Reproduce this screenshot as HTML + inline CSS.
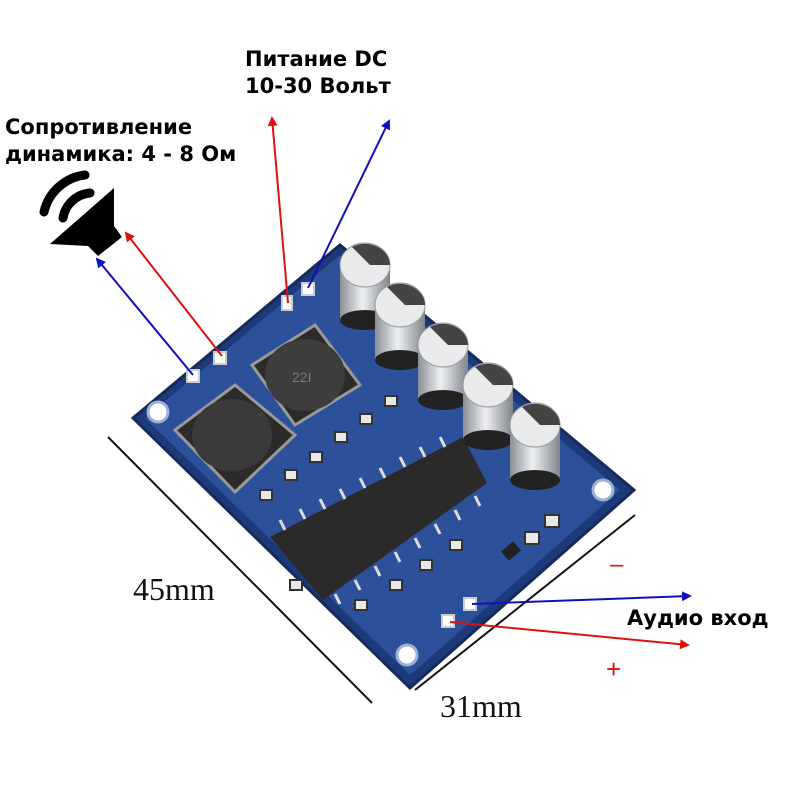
<!DOCTYPE html>
<html><head><meta charset="utf-8"><style>
body{margin:0;background:#fff;width:800px;height:800px;overflow:hidden}
svg{display:block}
.b{font-family:"DejaVu Sans","Liberation Sans",sans-serif;font-weight:bold;font-size:21px;fill:#000}
.s{font-family:"Liberation Serif",serif;font-size:32px;fill:#111}
</style></head><body>
<svg width="800" height="800" viewBox="0 0 800 800">
<defs>
<marker id="ar" markerWidth="10" markerHeight="10" refX="8" refY="5" orient="auto" markerUnits="userSpaceOnUse"><path d="M0,0 L10,5 L0,10 z" fill="#e01010"/></marker>
<marker id="ab" markerWidth="10" markerHeight="10" refX="8" refY="5" orient="auto" markerUnits="userSpaceOnUse"><path d="M0,0 L10,5 L0,10 z" fill="#1010c0"/></marker>
<linearGradient id="cap" x1="0" x2="1"><stop offset="0" stop-color="#8a8f96"/><stop offset="0.45" stop-color="#eef0f2"/><stop offset="1" stop-color="#80858c"/></linearGradient>
</defs>
<!-- board -->
<polygon points="133,418 340,245 634,490 410,688" fill="#1c3a7a" stroke="#142a5a" stroke-width="3"/>
<polygon points="145,418 340,255 620,490 410,675" fill="#2d509a"/>
<!-- mounting holes -->
<circle cx="158" cy="412" r="10" fill="#fff" stroke="#9fb0d8" stroke-width="3"/>
<circle cx="603" cy="490" r="10" fill="#fff" stroke="#9fb0d8" stroke-width="3"/>
<circle cx="407" cy="655" r="10" fill="#fff" stroke="#9fb0d8" stroke-width="3"/>
<!-- inductors -->
<polygon points="175,430 235,385 295,435 235,492" fill="#2b2b2b" stroke="#999" stroke-width="3"/>
<ellipse cx="232" cy="435" rx="40" ry="36" fill="#3a3a3a"/>
<polygon points="252,365 315,325 360,385 295,425" fill="#2b2b2b" stroke="#999" stroke-width="3"/>
<ellipse cx="305" cy="375" rx="40" ry="36" fill="#3d3d3d"/>
<text x="292" y="382" font-size="14" fill="#777" font-family="Liberation Sans">22I</text>
<!-- small components -->
<g fill="#e8e8e8" stroke="#333" stroke-width="2">
<rect x="260" y="490" width="12" height="10"/><rect x="285" y="470" width="12" height="10"/><rect x="310" y="452" width="12" height="10"/><rect x="335" y="432" width="12" height="10"/><rect x="360" y="414" width="12" height="10"/><rect x="385" y="396" width="12" height="10"/>
<rect x="290" y="580" width="12" height="10"/><rect x="355" y="600" width="12" height="10"/><rect x="390" y="580" width="12" height="10"/><rect x="420" y="560" width="12" height="10"/><rect x="450" y="540" width="12" height="10"/>
<rect x="545" y="515" width="14" height="12"/><rect x="525" y="532" width="14" height="12"/>
</g>
<rect x="503" y="545" width="16" height="12" fill="#222" transform="rotate(-40 511 551)"/>
<!-- chip -->
<polygon points="270,537 463,437 487,483 323,600" fill="#2a2a2a"/>
<g stroke="#ddd" stroke-width="3">
<line x1="285" y1="530" x2="280" y2="520"/><line x1="305" y1="519" x2="300" y2="509"/><line x1="325" y1="509" x2="320" y2="499"/><line x1="345" y1="499" x2="340" y2="489"/><line x1="365" y1="488" x2="360" y2="478"/><line x1="385" y1="478" x2="380" y2="468"/><line x1="405" y1="467" x2="400" y2="457"/><line x1="425" y1="457" x2="420" y2="447"/><line x1="445" y1="447" x2="440" y2="437"/>
<line x1="335" y1="594" x2="340" y2="604"/><line x1="355" y1="580" x2="360" y2="590"/><line x1="375" y1="566" x2="380" y2="576"/><line x1="395" y1="552" x2="400" y2="562"/><line x1="415" y1="538" x2="420" y2="548"/><line x1="435" y1="524" x2="440" y2="534"/><line x1="455" y1="510" x2="460" y2="520"/><line x1="475" y1="496" x2="480" y2="506"/>
</g>
<!-- capacitors -->
<g>
<rect x="340" y="265" width="50" height="55" fill="url(#cap)"/><ellipse cx="365" cy="320" rx="25" ry="10" fill="#222"/><ellipse cx="365" cy="265" rx="25" ry="22" fill="#e8eaec" stroke="#999"/><path d="M352,247 A25,22 0 0 1 390,265 L370,265 z" fill="#444"/>
<rect x="375" y="305" width="50" height="55" fill="url(#cap)"/><ellipse cx="400" cy="360" rx="25" ry="10" fill="#222"/><ellipse cx="400" cy="305" rx="25" ry="22" fill="#e8eaec" stroke="#999"/><path d="M387,287 A25,22 0 0 1 425,305 L405,305 z" fill="#444"/>
<rect x="418" y="345" width="50" height="55" fill="url(#cap)"/><ellipse cx="443" cy="400" rx="25" ry="10" fill="#222"/><ellipse cx="443" cy="345" rx="25" ry="22" fill="#e8eaec" stroke="#999"/><path d="M430,327 A25,22 0 0 1 468,345 L448,345 z" fill="#444"/>
<rect x="463" y="385" width="50" height="55" fill="url(#cap)"/><ellipse cx="488" cy="440" rx="25" ry="10" fill="#222"/><ellipse cx="488" cy="385" rx="25" ry="22" fill="#e8eaec" stroke="#999"/><path d="M475,367 A25,22 0 0 1 513,385 L493,385 z" fill="#444"/>
<rect x="510" y="425" width="50" height="55" fill="url(#cap)"/><ellipse cx="535" cy="480" rx="25" ry="10" fill="#222"/><ellipse cx="535" cy="425" rx="25" ry="22" fill="#e8eaec" stroke="#999"/><path d="M522,407 A25,22 0 0 1 560,425 L540,425 z" fill="#444"/>
</g>
<!-- pads -->
<g fill="#fff" stroke="#ccc" stroke-width="2"><rect x="282" y="296" width="10" height="14"/><rect x="302" y="283" width="12" height="12"/><rect x="187" y="370" width="12" height="12"/><rect x="214" y="352" width="12" height="12"/><rect x="464" y="598" width="12" height="12"/><rect x="442" y="615" width="12" height="12"/></g>
<!-- dimension lines -->
<line x1="108" y1="437" x2="372" y2="703" stroke="#111" stroke-width="2"/>
<line x1="415" y1="690" x2="635" y2="515" stroke="#111" stroke-width="2"/>
<text class="s" x="133" y="600">45mm</text>
<text class="s" x="440" y="717">31mm</text>
<!-- arrows -->
<line x1="288" y1="303" x2="272" y2="118" stroke="#e01010" stroke-width="2" marker-end="url(#ar)"/>
<line x1="308" y1="288" x2="389" y2="121" stroke="#1010c0" stroke-width="2" marker-end="url(#ab)"/>
<line x1="193" y1="375" x2="97" y2="259" stroke="#1010c0" stroke-width="2" marker-end="url(#ab)"/>
<line x1="222" y1="356" x2="126" y2="233" stroke="#e01010" stroke-width="2" marker-end="url(#ar)"/>
<line x1="472" y1="604" x2="690" y2="596" stroke="#1010c0" stroke-width="2" marker-end="url(#ab)"/>
<line x1="450" y1="622" x2="688" y2="645" stroke="#e01010" stroke-width="2" marker-end="url(#ar)"/>
<text x="610" y="572" font-size="24" fill="#e01010" font-family="Liberation Sans">–</text>
<text x="606" y="678" font-size="26" fill="#e01010" font-family="Liberation Sans">+</text>
<!-- speaker -->
<polygon points="114,188 114,226 122,237 98,256 88,246 50,244" fill="#000"/>
<path d="M44,212 A48,48 0 0 1 85,175" stroke="#000" stroke-width="9" stroke-linecap="round" fill="none"/>
<path d="M63,218 A30,30 0 0 1 90,193" stroke="#000" stroke-width="9" stroke-linecap="round" fill="none"/>
<!-- text -->
<text class="b" x="245" y="66">Питание DC</text>
<text class="b" x="245" y="93">10-30 Вольт</text>
<text class="b" x="5" y="134">Сопротивление</text>
<text class="b" x="5" y="161">динамика: 4 - 8 Ом</text>
<text class="b" x="627" y="625">Аудио вход</text>
</svg>
</body></html>
